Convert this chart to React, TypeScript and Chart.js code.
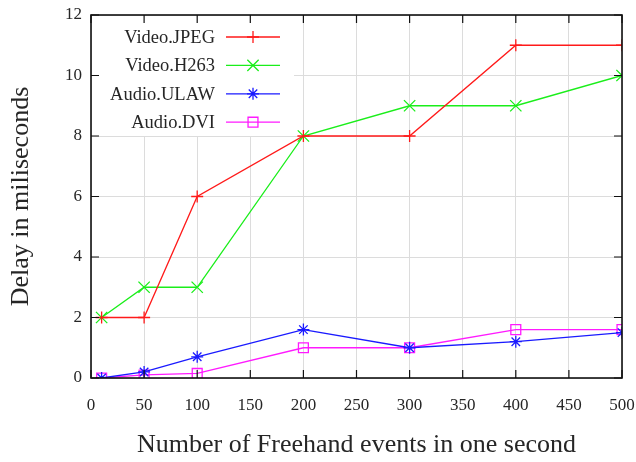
import React, { useEffect, useRef } from 'react';
import { Chart, registerables } from 'chart.js';

Chart.register(...registerables);

// ---- data ----
const xValues = [10, 50, 100, 200, 300, 400, 500];
const seriesNames = ['Video.JPEG', 'Video.H263', 'Audio.ULAW', 'Audio.DVI'];
const jpeg = [2, 2, 6, 8, 8, 11, 11];
const h263 = [2, 3, 3, 8, 9, 9, 10];
const ulaw = [0, 0.2, 0.7, 1.6, 1.0, 1.2, 1.5];
const dvi = [0, 0.1, 0.15, 1.0, 1.0, 1.6, 1.6];
const seriesValues = [jpeg, h263, ulaw, dvi];
const seriesColors = ['#ff1a1a', '#1aee1a', '#1a1aff', '#ff1aff'];
const seriesMarkers = ['cross', 'crossRot', 'star', 'rect'];
const seriesRadius = [6, 8, 6, 7];
const xTitle = 'Number of Freehand events in one second';
const yTitle = 'Delay in miliseconds';

const FONT = "'Liberation Serif', 'DejaVu Serif', 'Times New Roman', serif";
const TEXT = '#262626';

function drawMarker(ctx: CanvasRenderingContext2D, style: string, x: number, y: number, r: number) {
  ctx.beginPath();
  if (style === 'cross' || style === 'star') {
    ctx.moveTo(x - r, y); ctx.lineTo(x + r, y);
    ctx.moveTo(x, y - r); ctx.lineTo(x, y + r);
  }
  if (style === 'crossRot' || style === 'star') {
    const d = r * Math.SQRT1_2;
    ctx.moveTo(x - d, y - d); ctx.lineTo(x + d, y + d);
    ctx.moveTo(x - d, y + d); ctx.lineTo(x + d, y - d);
  }
  if (style === 'rect') {
    const s = r * Math.SQRT1_2;
    ctx.rect(x - s, y - s, 2 * s, 2 * s);
  }
  ctx.stroke();
}

const legendBoxPlugin = {
  id: 'legendBox',
  beforeDatasetsDraw(chart: any) {
    const { ctx, chartArea } = chart;
    ctx.save();
    ctx.fillStyle = '#ffffff';
    ctx.fillRect(chartArea.left + 1, chartArea.top + 1, 202, 120);
    ctx.restore();
  },
};

const framePlugin = {
  id: 'frame',
  afterDatasetsDraw(chart: any) {
    const { ctx, chartArea, scales } = chart;
    const { left, right, top, bottom } = chartArea;
    ctx.save();
    ctx.strokeStyle = '#111';
    ctx.lineWidth = 1.2;
    const tl = 8;
    ctx.beginPath();
    scales.x.ticks.forEach((t: any) => {
      const px = scales.x.getPixelForValue(t.value);
      ctx.moveTo(px, bottom); ctx.lineTo(px, bottom - tl);
      ctx.moveTo(px, top); ctx.lineTo(px, top + tl);
    });
    scales.y.ticks.forEach((t: any) => {
      const py = scales.y.getPixelForValue(t.value);
      ctx.moveTo(left, py); ctx.lineTo(left + tl, py);
      ctx.moveTo(right, py); ctx.lineTo(right - tl, py);
    });
    ctx.stroke();
    ctx.lineWidth = 1.6;
    ctx.strokeRect(left, top, right - left, bottom - top);

    // legend
    const textRight = left + 124;
    const lineStart = left + 135;
    const lineEnd = left + 189;
    ctx.font = `18.5px ${FONT}`;
    ctx.textAlign = 'right';
    ctx.textBaseline = 'middle';
    chart.data.datasets.forEach((ds: any, i: number) => {
      const y = top + 22 + i * 28.4;
      ctx.fillStyle = TEXT;
      ctx.fillText(ds.label, textRight, y + 1);
      ctx.strokeStyle = ds.borderColor;
      ctx.lineWidth = 1.3;
      ctx.beginPath();
      ctx.moveTo(lineStart, y); ctx.lineTo(lineEnd, y);
      ctx.stroke();
      drawMarker(ctx, ds.pointStyle, (lineStart + lineEnd) / 2, y, ds.pointRadius);
    });
    ctx.restore();
  },
};

export default function App() {
  const ref = useRef<HTMLCanvasElement>(null);
  useEffect(() => {
    document.body.style.margin = '0';
    const canvas = ref.current;
    if (!canvas) return;
    const chart = new Chart(canvas, {
      type: 'line',
      data: {
        datasets: seriesNames.map((name, i) => ({
          label: name,
          data: xValues.map((x, j) => ({ x, y: seriesValues[i][j] })),
          borderColor: seriesColors[i],
          backgroundColor: 'rgba(0,0,0,0)',
          pointBorderColor: seriesColors[i],
          pointBackgroundColor: 'rgba(0,0,0,0)',
          pointStyle: seriesMarkers[i] as any,
          pointRadius: seriesRadius[i],
          pointBorderWidth: 1.3,
          borderWidth: 1.3,
          tension: 0,
          fill: false,
        })),
      },
      options: {
        animation: false,
        responsive: false,
        maintainAspectRatio: false,
        layout: { padding: { top: 15, right: 14, left: 0, bottom: 0 } },
        plugins: { legend: { display: false }, tooltip: { enabled: false } },
        scales: {
          x: {
            type: 'linear',
            min: 0,
            max: 500,
            ticks: { stepSize: 50, font: { family: FONT, size: 17 }, color: TEXT, padding: 17, maxRotation: 0 },
            grid: { color: '#dcdcdc', lineWidth: 1, drawTicks: false },
            border: { display: false },
            title: {
              display: true,
              text: xTitle,
              font: { family: FONT, size: 26 },
              color: TEXT,
              padding: { top: 0, bottom: 1 },
            },
            afterFit: (s: any) => {
              s.height = 84;
              s.paddingLeft = 0;
              s.paddingRight = 0;
            },
          },
          y: {
            type: 'linear',
            min: 0,
            max: 12,
            ticks: { stepSize: 2, font: { family: FONT, size: 17 }, color: TEXT, padding: 9 },
            grid: { color: '#dcdcdc', lineWidth: 1, drawTicks: false },
            border: { display: false },
            title: {
              display: true,
              text: yTitle,
              font: { family: FONT, size: 26 },
              color: TEXT,
              padding: { top: 6, bottom: 0 },
            },
            afterFit: (s: any) => {
              s.width = 91;
              s.paddingTop = 0;
              s.paddingBottom = 0;
            },
          },
        },
      },
      plugins: [legendBoxPlugin, framePlugin],
    });
    return () => chart.destroy();
  }, []);
  return <canvas ref={ref} width={636} height={462} style={{ display: 'block' }} />;
}
